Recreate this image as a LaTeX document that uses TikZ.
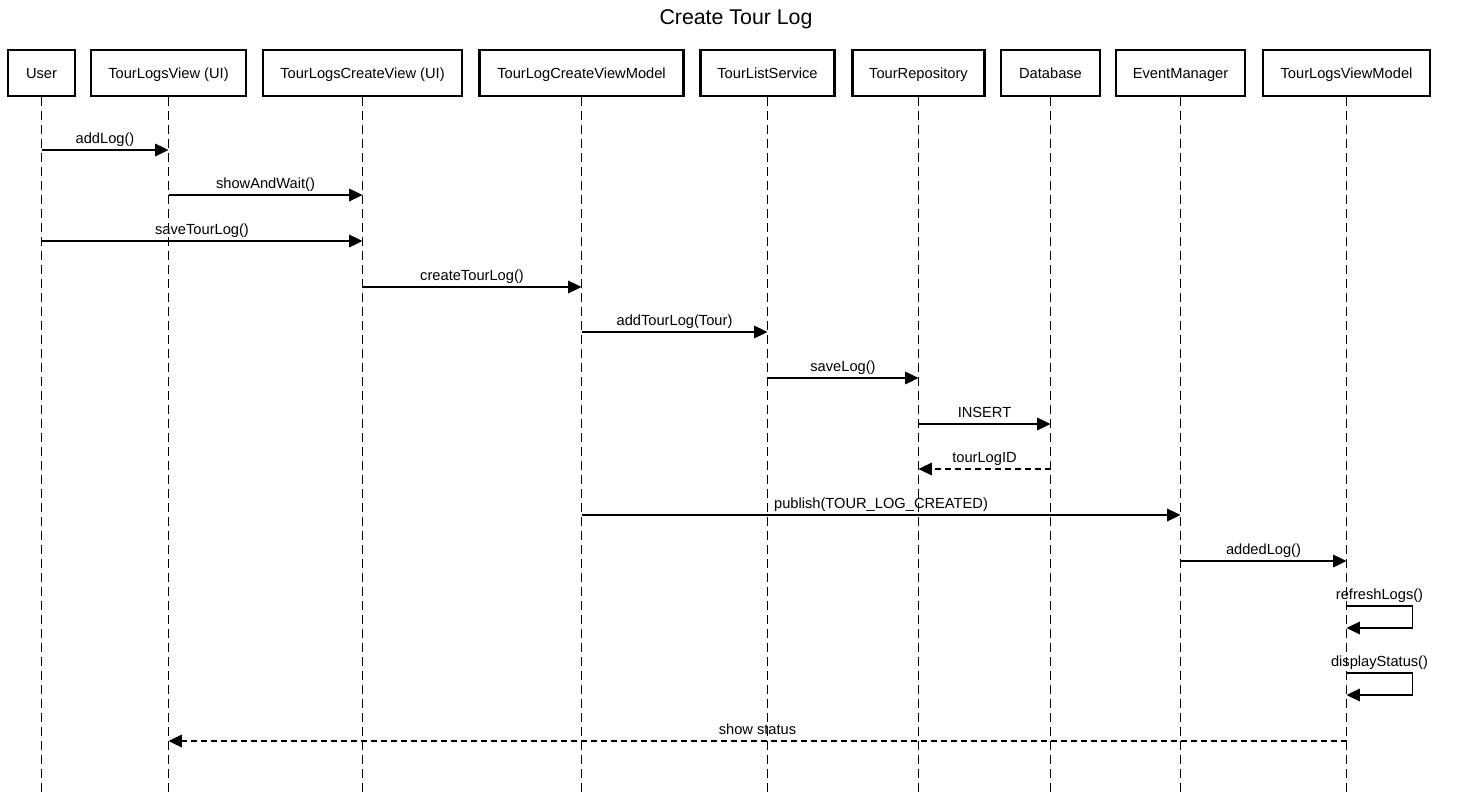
\documentclass[tikz,border=0pt]{standalone}
\usepackage{fontspec}
\setmainfont{Liberation Sans}
\usetikzlibrary{arrows.meta}
\begin{document}
\begin{tikzpicture}[x=0.75pt,y=-0.75pt,
  actor/.style={draw,line width=1.6pt,minimum height=34.5pt,inner sep=0pt,
    text height=10pt,text depth=2pt,
    font=\fontsize{11pt}{13pt}\selectfont},
  lifeline/.style={line width=0.8pt,dash pattern=on 6.75pt off 3.75pt},
  msg/.style={line width=0.8pt,-{Triangle[length=10pt,width=9.5pt]}},
  reply/.style={msg,dash pattern=on 4.5pt off 3pt},
  lbl/.style={anchor=base,yshift=4.75pt,inner sep=0pt,
    font=\fontsize{11pt}{13pt}\selectfont}]
\useasboundingbox[fill=white] (0,0) rectangle (1473,798);

\node[font=\fontsize{16pt}{19pt}\selectfont] (title) at (736,19) {Create Tour Log};

% participants
\node[actor,minimum width=50.25pt]  (user) at (41.5,73)   {User};
\node[actor,minimum width=116.25pt] (tlv)  at (168.5,73)  {TourLogsView (UI)};
\node[actor,minimum width=149.25pt] (tlcv) at (362.5,73)  {TourLogsCreateView (UI)};
\node[actor,minimum width=153pt]    (tlcvm) at (581.5,73) {TourLogCreateViewModel};
\node[actor,minimum width=100.5pt]  (tls)  at (767.5,73)  {TourListService};
\node[actor,minimum width=99pt]     (repo) at (918.5,73)  {TourRepository};
\node[actor,minimum width=74.25pt]  (db)   at (1050.5,73) {Database};
\node[actor,minimum width=96.75pt]  (em)   at (1180.5,73) {EventManager};
\node[actor,minimum width=125.25pt] (tlvm) at (1346.5,73) {TourLogsViewModel};

% lifelines
\foreach \p in {user,tlv,tlcv,tlcvm,tls,repo,db,em,tlvm}
  \draw[lifeline] (\p.south) -- (\p |- 0,796);

% messages
\draw[msg] (user |- 0,150) -- node[lbl] {addLog()} (tlv |- 0,150);
\draw[msg] (tlv |- 0,195) -- node[lbl] {showAndWait()} (tlcv |- 0,195);
\draw[msg] (user |- 0,241) -- node[lbl] {saveTourLog()} (tlcv |- 0,241);
\draw[msg] (tlcv |- 0,287) -- node[lbl] {createTourLog()} (tlcvm |- 0,287);
\draw[msg] (tlcvm |- 0,332) -- node[lbl] {addTourLog(Tour)} (tls |- 0,332);
\draw[msg] (tls |- 0,378) -- node[lbl] {saveLog()} (repo |- 0,378);
\draw[msg] (repo |- 0,424) -- node[lbl] {INSERT} (db |- 0,424);
\draw[reply] (db |- 0,469) -- node[lbl] {tourLogID} (repo |- 0,469);
\draw[msg] (tlcvm |- 0,515) -- node[lbl] {publish(TOUR\_LOG\_CREATED)} (em |- 0,515);
\draw[msg] (em |- 0,561) -- node[lbl] {addedLog()} (tlvm |- 0,561);

% self calls
\draw[msg] (tlvm |- 0,606) -- node[lbl] {refreshLogs()} ++(66,0)
  -- ++(0,22) -- (tlvm |- 0,628);
\draw[msg] (tlvm |- 0,673) -- node[lbl] {displayStatus()} ++(66,0)
  -- ++(0,22) -- (tlvm |- 0,695);

\draw[reply] (tlvm |- 0,741) -- node[lbl] {show status} (tlv |- 0,741);
\end{tikzpicture}
\end{document}
